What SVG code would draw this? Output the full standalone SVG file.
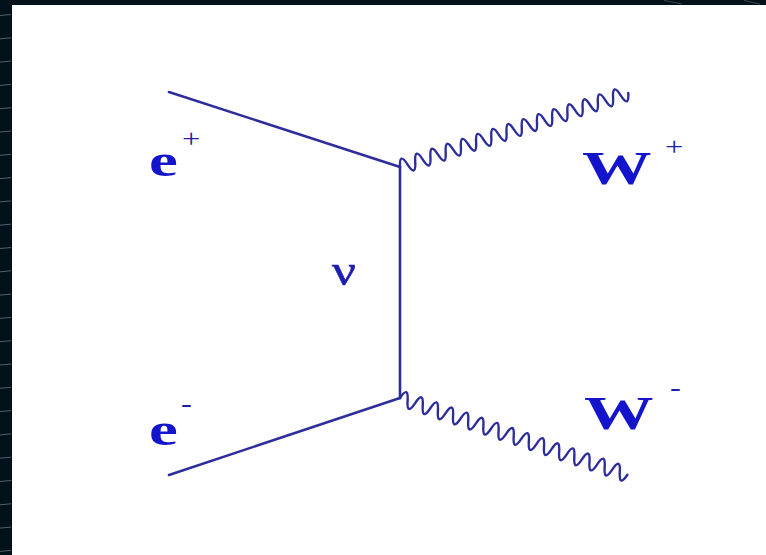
<svg xmlns="http://www.w3.org/2000/svg" width="766" height="555" viewBox="0 0 766 555">
  <style>
    .line { fill: none; stroke: #2d2d9b; stroke-width: 2.6; stroke-linecap: round; stroke-linejoin: round; }
    .wave { fill: none; stroke: #2d2d9b; stroke-width: 2.4; stroke-linecap: round; stroke-linejoin: round; }
    .lbl { font-family: "Liberation Serif", "Times New Roman", serif; fill: #1414cc; font-weight: bold; font-size: 47px; }
    .sup { font-family: "Liberation Serif", "Times New Roman", serif; fill: #1e1ea8; font-size: 25px; }
    .nu { font-family: "Liberation Serif", "DejaVu Serif", serif; fill: #1e1eb4; font-size: 44px; stroke: #1e1eb4; stroke-width: 0.6; }
    .tick { stroke: #51616a; stroke-width: 1; }
  </style>
  <defs>
    <path id="wavePath" d="M0,0 q4,-15 8,0 t8,0 t8,0 t8,0 t8,0 t8,0 t8,0 t8,0 t8,0 t8,0 t8,0 t8,0 t8,0 t8,0 t8,0 t8,0 t8,0 t8,0 t8,0 t8,0 t8,0 t8,0 t8,0 t8,0 t8,0 t8,0 t8,0 t8,0 t8,0 t8,0"/>
  </defs>

  <!-- background frame -->
  <rect x="0" y="0" width="766" height="555" fill="#03111b"/>
  <rect x="12" y="5" width="754" height="550" fill="#ffffff"/>
  <g id="frame-ticks">
    <line class="tick" x1="0" y1="15.5" x2="11" y2="14.5"/>
    <line class="tick" x1="0" y1="38.8" x2="11" y2="37.8"/>
    <line class="tick" x1="0" y1="62.1" x2="11" y2="61.1"/>
    <line class="tick" x1="0" y1="85.4" x2="11" y2="84.4"/>
    <line class="tick" x1="0" y1="108.7" x2="11" y2="107.7"/>
    <line class="tick" x1="0" y1="132" x2="11" y2="131"/>
    <line class="tick" x1="0" y1="155.3" x2="11" y2="154.3"/>
    <line class="tick" x1="0" y1="178.6" x2="11" y2="177.6"/>
    <line class="tick" x1="0" y1="201.9" x2="11" y2="200.9"/>
    <line class="tick" x1="0" y1="225.2" x2="11" y2="224.2"/>
    <line class="tick" x1="0" y1="248.5" x2="11" y2="247.5"/>
    <line class="tick" x1="0" y1="271.8" x2="11" y2="270.8"/>
    <line class="tick" x1="0" y1="295.1" x2="11" y2="294.1"/>
    <line class="tick" x1="0" y1="318.4" x2="11" y2="317.4"/>
    <line class="tick" x1="0" y1="341.7" x2="11" y2="340.7"/>
    <line class="tick" x1="0" y1="365" x2="11" y2="364"/>
    <line class="tick" x1="0" y1="388.3" x2="11" y2="387.3"/>
    <line class="tick" x1="0" y1="411.6" x2="11" y2="410.6"/>
    <line class="tick" x1="0" y1="434.9" x2="11" y2="433.9"/>
    <line class="tick" x1="0" y1="458.2" x2="11" y2="457.2"/>
    <line class="tick" x1="0" y1="481.5" x2="11" y2="480.5"/>
    <line class="tick" x1="0" y1="504.8" x2="11" y2="503.8"/>
    <line class="tick" x1="0" y1="528.1" x2="11" y2="527.1"/>
    <line class="tick" x1="0" y1="551.4" x2="11" y2="550.4"/>
    <line class="tick" x1="664" y1="0.5" x2="682" y2="4" opacity="0.7"/>
    <line class="tick" x1="744" y1="0.5" x2="760" y2="4" opacity="0.7"/>
  </g>

  <!-- connectors -->
  <g id="connectors">
    <line id="e-plus-line" class="line" x1="169" y1="92" x2="400" y2="167"/>
    <line id="e-minus-line" class="line" x1="169" y1="475" x2="400" y2="398"/>
    <line id="nu-propagator" class="line" x1="400" y1="167" x2="400" y2="398"/>
    <use id="w-plus-wave" href="#wavePath" class="wave" transform="translate(400,167) rotate(-17.98)"/>
    <use id="w-minus-wave" href="#wavePath" class="wave" transform="translate(400,398) rotate(18.66)"/>
  </g>

  <!-- nodes / labels -->
  <g id="e-plus">
    <text class="lbl" transform="translate(149,176) scale(1.38,1)">e</text>
    <text class="sup" transform="translate(182,147) scale(1.3,1)">+</text>
  </g>
  <g id="e-minus">
    <text class="lbl" transform="translate(149,445) scale(1.38,1)">e</text>
    <text class="sup" transform="translate(181,412) scale(1.3,1)">-</text>
  </g>
  <g id="w-plus">
    <text class="lbl" transform="translate(582,184) scale(1.48,1)">W</text>
    <text class="sup" transform="translate(665,155) scale(1.3,1)">+</text>
  </g>
  <g id="w-minus">
    <text class="lbl" transform="translate(584,429) scale(1.48,1)">W</text>
    <text class="sup" transform="translate(670,396) scale(1.3,1)">-</text>
  </g>
  <g id="nu">
    <text class="nu" transform="translate(332,285) scale(1.2,1)">ν</text>
  </g>
</svg>
